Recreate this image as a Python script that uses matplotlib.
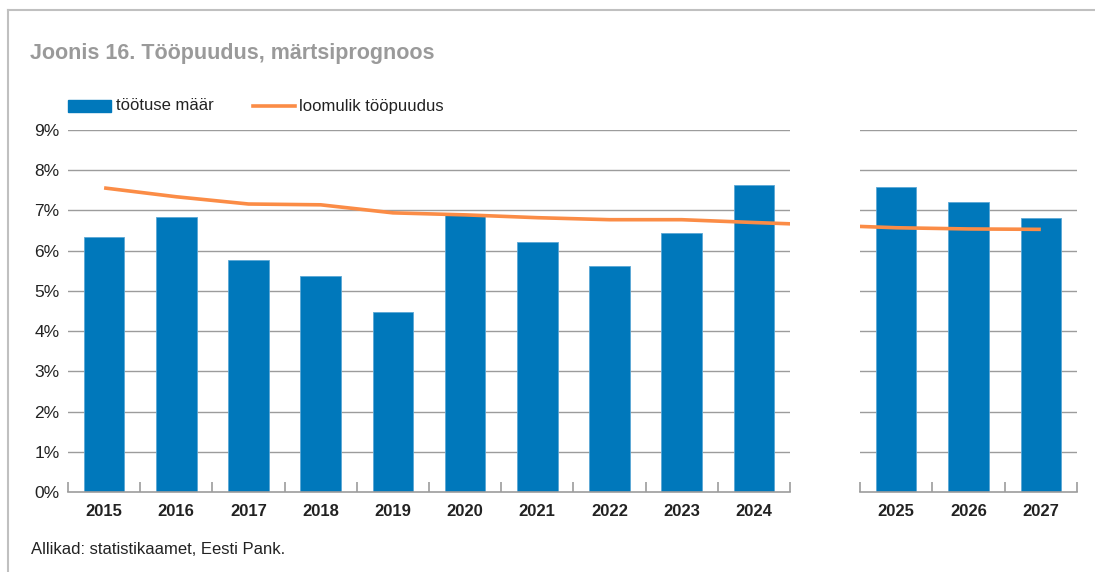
import matplotlib
matplotlib.use("Agg")
import matplotlib.pyplot as plt
from matplotlib.patches import Rectangle
from matplotlib.lines import Line2D

plt.rcParams['font.family'] = ['Liberation Sans', 'DejaVu Sans']

# ---- data ----
years_hist = ["2015", "2016", "2017", "2018", "2019", "2020", "2021", "2022", "2023", "2024"]
years_fc = ["2025", "2026", "2027"]
unemp_hist = [6.34, 6.84, 5.77, 5.37, 4.48, 6.89, 6.22, 5.62, 6.44, 7.64]
unemp_fc = [7.59, 7.21, 6.82]
natural_hist = [7.56, 7.34, 7.16, 7.14, 6.94, 6.89, 6.82, 6.77, 6.77, 6.70]
natural_fc = [6.57, 6.54, 6.53]
yticks = [0, 1, 2, 3, 4, 5, 6, 7, 8, 9]

title = "Joonis 16. Tööpuudus, märtsiprognoos"
source = "Allikad: statistikaamet, Eesti Pank."
legend_bar = "töötuse määr"
legend_line = "loomulik tööpuudus"

BLUE = "#0078bb"
ORANGE = "#fb8c46"
GRID = "#9c9c9c"
TXT = "#222222"

W, H = 1095, 572
fig = plt.figure(figsize=(W / 100, H / 100), dpi=100)

gap_shift = 1.0  # positional gap between historic and forecast panels
x_hist = list(range(len(years_hist)))
x_fc = [len(years_hist) + gap_shift + i for i in range(len(years_fc))]
x_all = x_hist + x_fc
nat_all = natural_hist + natural_fc

bottom = (H - 492) / H
height = 362 / H
ax1 = fig.add_axes([68 / W, bottom, 722 / W, height])
ax2 = fig.add_axes([860 / W, bottom, 217 / W, height])

for ax, xs, vals, labels in [(ax1, x_hist, unemp_hist, years_hist),
                             (ax2, x_fc, unemp_fc, years_fc)]:
    ax.bar(xs, vals, width=0.56, color=BLUE, edgecolor="#5aa7d6", linewidth=0.6, zorder=2)
    ax.plot(x_all, nat_all, color=ORANGE, linewidth=2.6, zorder=3, solid_capstyle="butt")
    ax.set_ylim(0, 9)
    ax.set_xlim(xs[0] - 0.5, xs[-1] + 0.5)
    ax.set_yticks(yticks)
    for v in yticks[1:]:
        ax.axhline(v, color=GRID, linewidth=1.0, zorder=1)
    for s in ["top", "right", "left"]:
        ax.spines[s].set_visible(False)
    ax.spines["bottom"].set_color(GRID)
    ax.spines["bottom"].set_linewidth(1.2)
    ax.set_xticks(xs)
    ax.set_xticklabels(labels, fontweight="bold", fontsize=12, color=TXT)
    ax.set_xticks([x - 0.5 for x in xs] + [xs[-1] + 0.5], minor=True)
    ax.tick_params(axis="x", which="major", length=0, pad=9)
    ax.tick_params(axis="x", which="minor", direction="in", length=7, width=1.2, color=GRID)
    ax.tick_params(axis="y", length=0, pad=6)

ax1.set_yticklabels([f"{v}%" for v in yticks], fontsize=12.5, color=TXT)
ax2.set_yticklabels([])

# frame
fig.add_artist(Line2D([8 / W, 1.0], [1 - 10 / H, 1 - 10 / H], color="#c0c0c0", linewidth=1.5,
                      transform=fig.transFigure))
fig.add_artist(Line2D([8 / W, 8 / W], [0, 1 - 10 / H], color="#c0c0c0", linewidth=1.5,
                      transform=fig.transFigure))

# title
fig.text(30 / W, 1 - 54 / H, title, fontsize=15.5, fontweight="bold", color="#9a9a9a",
         ha="left", va="center")

# legend
ly = 1 - 106 / H
fig.add_artist(Rectangle((68 / W, 1 - 112 / H), 43 / W, 12 / H, color=BLUE,
                         transform=fig.transFigure))
fig.text(116 / W, ly, legend_bar, fontsize=12, color=TXT, ha="left", va="center")
fig.add_artist(Line2D([253 / W, 295 / W], [ly, ly], color=ORANGE, linewidth=2.6,
                      transform=fig.transFigure))
fig.text(299 / W, ly, legend_line, fontsize=12, color=TXT, ha="left", va="center")

# source
fig.text(31 / W, 1 - 550 / H, source, fontsize=12, color=TXT, ha="left", va="center")

fig.savefig("out.png", dpi=100)
